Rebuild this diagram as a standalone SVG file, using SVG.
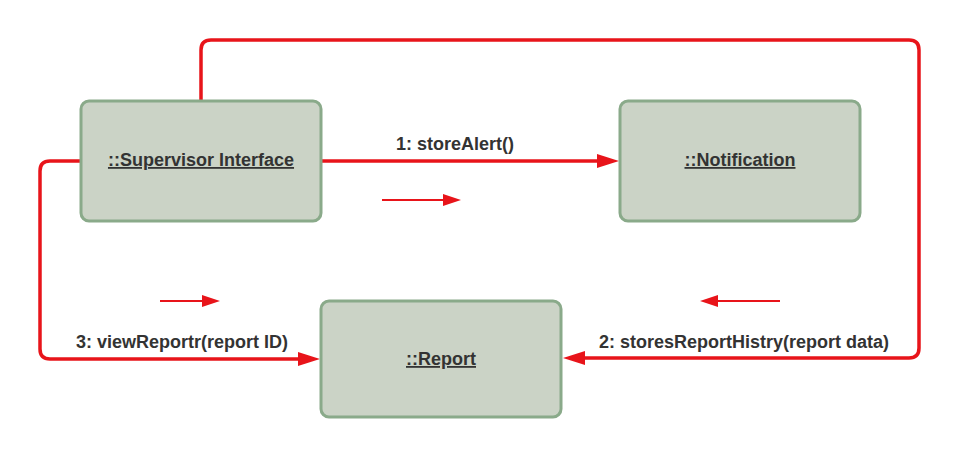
<svg xmlns="http://www.w3.org/2000/svg" width="960" height="458" viewBox="0 0 960 458">
<style>
.box{fill:#cbd3c6;stroke:#8aaa8a;stroke-width:3}
.lbl{font-family:"Liberation Sans",Arial,sans-serif;font-size:18px;font-weight:bold;fill:#333333}
.nl{text-decoration:underline}
.conn{fill:none;stroke:#e8141a;stroke-width:3.5;stroke-linejoin:round}
.sm{fill:none;stroke:#e8141a;stroke-width:2}
.ah{fill:#e8141a}
</style>
<rect width="960" height="458" fill="#ffffff"/>
<g id="connectors">
<path class="conn" d="M201,101 V50 Q201,40 211,40 H909 Q919,40 919,50 V348 Q919,358 909,358 H585"/>
<polygon class="ah" points="563,358 585,351 585,365"/>
<path class="conn" d="M322,161 H597"/>
<polygon class="ah" points="619,161 597,154 597,168"/>
<path class="conn" d="M81,161 H50 Q40,161 40,171 V349 Q40,359 50,359 H298"/>
<polygon class="ah" points="320,359 298,352 298,366"/>
<path class="sm" d="M382,200 H445"/>
<polygon class="ah" points="461,200 443,194 443,206"/>
<path class="sm" d="M160,301 H203"/>
<polygon class="ah" points="220,301 202,295 202,307"/>
<path class="sm" d="M780,301 H717"/>
<polygon class="ah" points="700,301 718,295 718,307"/>
<text class="lbl" x="455" y="150" text-anchor="middle">1: storeAlert()</text>
<text class="lbl" x="182" y="348" text-anchor="middle">3: viewReportr(report ID)</text>
<text class="lbl" x="744" y="348" text-anchor="middle">2: storesReportHistry(report data)</text>
</g>
<g id="supervisor">
<rect class="box" x="81" y="101" width="240" height="120" rx="8"/>
<text class="lbl nl" x="201" y="166" text-anchor="middle">::Supervisor Interface</text>
</g>
<g id="notification">
<rect class="box" x="620" y="101" width="240" height="120" rx="8"/>
<text class="lbl nl" x="740" y="166" text-anchor="middle">::Notification</text>
</g>
<g id="report">
<rect class="box" x="321" y="301" width="240" height="116" rx="8"/>
<text class="lbl nl" x="441" y="365" text-anchor="middle">::Report</text>
</g>
</svg>
